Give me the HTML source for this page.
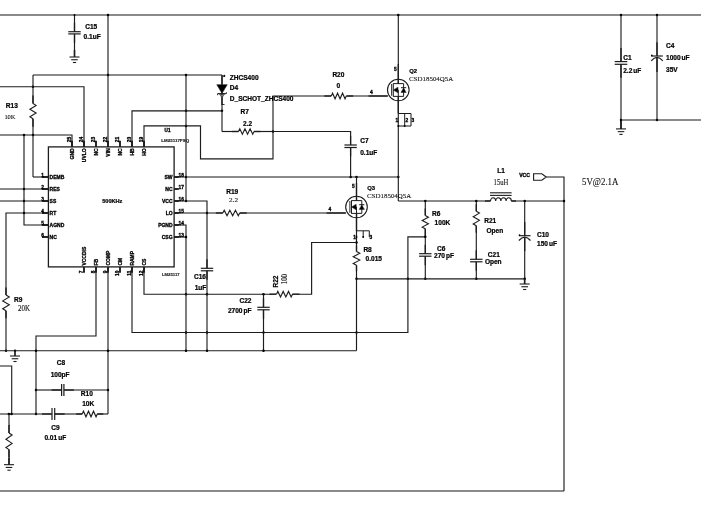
<!DOCTYPE html>
<html><head><meta charset="utf-8"><title>Schematic</title>
<style>
html,body{margin:0;padding:0;background:#fff;}
body{width:701px;height:511px;overflow:hidden;font-family:"Liberation Sans",sans-serif;}
svg{display:block;}
</style></head><body>
<svg width="701" height="511" viewBox="0 0 701 511" stroke="#1c1c1c" stroke-width="1.15" fill="#000" stroke-linecap="butt" stroke-linejoin="miter">
<rect x="0" y="0" width="701" height="511" fill="#fff" stroke="none"/>
<defs><filter id="bl" x="0" y="0" width="701" height="511" filterUnits="userSpaceOnUse"><feGaussianBlur stdDeviation="0.42"/></filter></defs>
<g filter="url(#bl)">
<line x1="0" y1="15" x2="701" y2="15" stroke-width="1.2"/>
<line x1="0" y1="491" x2="564" y2="491" stroke-width="1.2"/>
<line x1="74.5" y1="15" x2="74.5" y2="31.7"/>
<line x1="74.5" y1="33.9" x2="74.5" y2="57"/>
<line x1="74.5" y1="50" x2="74.5" y2="57" stroke-width="1.6"/>
<line x1="68.3" y1="31.7" x2="80.7" y2="31.7" stroke-width="1.2"/>
<line x1="68.3" y1="33.9" x2="80.7" y2="33.9" stroke-width="1.2"/>
<line x1="74.5" y1="22.7" x2="74.5" y2="31.7" stroke-width="1.3"/>
<line x1="74.5" y1="33.9" x2="74.5" y2="42.9" stroke-width="1.3"/>
<line x1="69.5" y1="57" x2="79.5" y2="57" stroke-width="1.1"/>
<line x1="71.2" y1="59.75" x2="77.8" y2="59.75" stroke-width="1.1"/>
<line x1="72.9" y1="62.5" x2="76.1" y2="62.5" stroke-width="1.1"/>
<circle cx="74.5" cy="15" r="1.0" fill="#000" stroke="none"/>
<line x1="108" y1="15" x2="108" y2="147"/>
<circle cx="108" cy="15" r="1.25" fill="#000" stroke="none"/>
<circle cx="108" cy="75" r="1.25" fill="#000" stroke="none"/>
<line x1="33" y1="75" x2="222" y2="75"/>
<line x1="33" y1="75" x2="33" y2="103.5"/>
<line x1="33" y1="118.7" x2="33" y2="177"/>
<line x1="33" y1="177" x2="48" y2="177"/>
<polyline points="33.00,103.50 36.10,105.40 29.90,109.20 36.10,113.00 29.90,116.80 33.00,118.70" fill="none" stroke-width="1.1"/>
<line x1="33" y1="95.5" x2="33" y2="103.5" stroke-width="1.3"/>
<line x1="33" y1="118.7" x2="33" y2="126.7" stroke-width="1.3"/>
<circle cx="33" cy="86.7" r="1.25" fill="#000" stroke="none"/>
<circle cx="33" cy="135" r="1.25" fill="#000" stroke="none"/>
<polyline points="0.00,86.70 84.00,86.70 84.00,147.00" fill="none"/>
<polyline points="0.00,135.00 72.00,135.00 72.00,147.00" fill="none"/>
<polyline points="24.00,135.00 24.00,225.00 48.00,225.00" fill="none"/>
<circle cx="24" cy="135" r="1.25" fill="#000" stroke="none"/>
<circle cx="24" cy="189" r="1.25" fill="#000" stroke="none"/>
<circle cx="24" cy="201" r="1.25" fill="#000" stroke="none"/>
<circle cx="24" cy="213" r="1.25" fill="#000" stroke="none"/>
<line x1="0" y1="189" x2="48" y2="189"/>
<line x1="0" y1="201" x2="48" y2="201"/>
<polyline points="48.00,213.00 6.00,213.00 6.00,295.00" fill="none"/>
<line x1="6" y1="310.7" x2="6" y2="350.7"/>
<polyline points="6.00,295.00 9.30,296.96 2.70,300.89 9.30,304.81 2.70,308.74 6.00,310.70" fill="none" stroke-width="1.1"/>
<line x1="6" y1="287.5" x2="6" y2="295" stroke-width="1.3"/>
<line x1="6" y1="310.7" x2="6" y2="318.2" stroke-width="1.3"/>
<circle cx="6" cy="350.7" r="1.25" fill="#000" stroke="none"/>
<circle cx="15" cy="350.7" r="1.25" fill="#000" stroke="none"/>
<line x1="15" y1="350.7" x2="15" y2="356" stroke-width="1.7"/>
<line x1="10" y1="356" x2="20" y2="356" stroke-width="1.1"/>
<line x1="11.7" y1="358.75" x2="18.3" y2="358.75" stroke-width="1.1"/>
<line x1="13.4" y1="361.5" x2="16.6" y2="361.5" stroke-width="1.1"/>
<line x1="0" y1="350.7" x2="356.5" y2="350.7"/>
<line x1="186" y1="75" x2="186" y2="201"/>
<circle cx="186" cy="75" r="1.25" fill="#000" stroke="none"/>
<circle cx="186" cy="110.8" r="1.25" fill="#000" stroke="none"/>
<circle cx="186" cy="125.9" r="1.25" fill="#000" stroke="none"/>
<circle cx="186" cy="177" r="1.25" fill="#000" stroke="none"/>
<circle cx="186" cy="201" r="1.25" fill="#000" stroke="none"/>
<line x1="174" y1="177" x2="398.3" y2="177"/>
<circle cx="350.6" cy="177" r="1.25" fill="#000" stroke="none"/>
<circle cx="356.5" cy="177" r="1.25" fill="#000" stroke="none"/>
<circle cx="398.3" cy="177" r="1.25" fill="#000" stroke="none"/>
<polyline points="174.00,201.00 207.00,201.00 207.00,268.00" fill="none"/>
<line x1="207" y1="270.5" x2="207" y2="350.7"/>
<line x1="200.8" y1="268.3" x2="213.2" y2="268.3" stroke-width="1.2"/>
<line x1="200.8" y1="270.8" x2="213.2" y2="270.8" stroke-width="1.2"/>
<line x1="207" y1="259.3" x2="207" y2="268.3" stroke-width="1.3"/>
<line x1="207" y1="270.8" x2="207" y2="279.8" stroke-width="1.3"/>
<circle cx="207" cy="213" r="1.25" fill="#000" stroke="none"/>
<circle cx="207" cy="294.2" r="1.25" fill="#000" stroke="none"/>
<circle cx="207" cy="332.5" r="1.25" fill="#000" stroke="none"/>
<circle cx="207" cy="350.7" r="1.25" fill="#000" stroke="none"/>
<line x1="174" y1="213" x2="222.8" y2="213"/>
<line x1="239.7" y1="213" x2="345.8" y2="213"/>
<polyline points="222.80,213.00 224.21,210.20 227.03,215.80 229.84,210.20 232.66,215.80 235.47,210.20 238.29,215.80 239.70,213.00" fill="none" stroke-width="1.1"/>
<line x1="215.8" y1="213" x2="222.8" y2="213" stroke-width="1.3"/>
<line x1="239.7" y1="213" x2="246.7" y2="213" stroke-width="1.3"/>
<line x1="326.5" y1="213" x2="345.8" y2="213" stroke-width="1.3"/>
<polyline points="174.00,225.00 186.00,225.00 186.00,350.70" fill="none"/>
<line x1="174" y1="237" x2="186" y2="237"/>
<circle cx="186" cy="237" r="1.25" fill="#000" stroke="none"/>
<circle cx="186" cy="294.2" r="1.25" fill="#000" stroke="none"/>
<circle cx="186" cy="332.5" r="1.25" fill="#000" stroke="none"/>
<circle cx="186" cy="350.7" r="1.25" fill="#000" stroke="none"/>
<polyline points="132.00,147.00 132.00,110.80 222.00,110.80" fill="none"/>
<circle cx="222" cy="110.8" r="1.25" fill="#000" stroke="none"/>
<line x1="222" y1="75" x2="222" y2="131.5"/>
<polygon points="216.80,84.70 227.20,84.70 222.00,93.30" fill="#000" stroke-width="0.6"/>
<line x1="217.6" y1="93.6" x2="226.4" y2="93.6" stroke-width="1.1"/>
<line x1="217.6" y1="93.6" x2="217.6" y2="95.2" stroke-width="0.9"/>
<line x1="226.4" y1="93.6" x2="226.4" y2="92.2" stroke-width="0.9"/>
<polygon points="219.60,94.40 224.40,94.40 222.00,97.60" fill="none" stroke-width="0.7"/>
<line x1="222" y1="75" x2="222" y2="84.7" stroke-width="1.3"/>
<line x1="222" y1="97.6" x2="222" y2="105" stroke-width="1.3"/>
<text x="223.2" y="78.5" font-family="Liberation Sans, sans-serif" font-size="5" font-weight="bold" stroke="#000" stroke-width="0.32">*</text>
<line x1="222" y1="104.5" x2="224.5" y2="104.5" stroke-width="0.9"/>
<line x1="222" y1="131.5" x2="238.5" y2="131.5"/>
<line x1="254" y1="131.5" x2="273" y2="131.5"/>
<polyline points="238.50,131.50 239.79,128.70 242.38,134.30 244.96,128.70 247.54,134.30 250.12,128.70 252.71,134.30 254.00,131.50" fill="none" stroke-width="1.1"/>
<line x1="232.0" y1="131.5" x2="238.5" y2="131.5" stroke-width="1.3"/>
<line x1="254" y1="131.5" x2="260.5" y2="131.5" stroke-width="1.3"/>
<circle cx="273" cy="131.5" r="1.25" fill="#000" stroke="none"/>
<polyline points="144.00,147.00 144.00,125.90 200.50,125.90 200.50,158.80 273.00,158.80 273.00,96.00 331.00,96.00" fill="none"/>
<line x1="346.5" y1="96" x2="387.8" y2="96"/>
<polyline points="331.30,96.00 332.55,93.20 335.05,98.80 337.55,93.20 340.05,98.80 342.55,93.20 345.05,98.80 346.30,96.00" fill="none" stroke-width="1.1"/>
<line x1="324.3" y1="96" x2="331.3" y2="96" stroke-width="1.3"/>
<line x1="346.3" y1="96" x2="353.3" y2="96" stroke-width="1.3"/>
<line x1="368.5" y1="96" x2="387.8" y2="96" stroke-width="1.3"/>
<polyline points="273.00,131.50 350.60,131.50 350.60,145.00" fill="none"/>
<line x1="350.6" y1="147.5" x2="350.6" y2="177"/>
<line x1="344.40000000000003" y1="145" x2="356.8" y2="145" stroke-width="1.2"/>
<line x1="344.40000000000003" y1="147.5" x2="356.8" y2="147.5" stroke-width="1.2"/>
<line x1="350.6" y1="136" x2="350.6" y2="145" stroke-width="1.3"/>
<line x1="350.6" y1="147.5" x2="350.6" y2="156.5" stroke-width="1.3"/>
<circle cx="398.3" cy="90" r="10.8" fill="none" stroke-width="1.1"/>
<line x1="391.7" y1="84" x2="391.7" y2="95.8" stroke-width="1.0"/>
<line x1="393.3" y1="83.4" x2="393.3" y2="96.6" stroke-width="1.0"/>
<line x1="393.3" y1="83.6" x2="403.6" y2="83.6" stroke-width="1.0"/>
<line x1="393.3" y1="96.4" x2="403.6" y2="96.4" stroke-width="1.0"/>
<line x1="403.6" y1="83.6" x2="403.6" y2="96.4" stroke-width="1.0"/>
<polygon points="393.30,90.00 398.00,87.20 398.00,92.80" fill="#000" stroke-width="0.5"/>
<line x1="397.7" y1="90" x2="398.3" y2="90" stroke-width="1.0"/>
<line x1="398.3" y1="90" x2="398.3" y2="96.4" stroke-width="1.0"/>
<polygon points="401.00,92.40 406.20,92.40 403.60,88.00" fill="#000" stroke-width="0.5"/>
<line x1="401.0" y1="87.7" x2="406.2" y2="87.7" stroke-width="1.0"/>
<line x1="398.3" y1="15" x2="398.3" y2="83.6"/>
<line x1="398.3" y1="64" x2="398.3" y2="83.6" stroke-width="1.3"/>
<line x1="398.3" y1="96.4" x2="398.3" y2="201"/>
<line x1="398.3" y1="96.4" x2="398.3" y2="113.5" stroke-width="1.3"/>
<polyline points="398.30,113.50 411.00,113.50 411.00,126.00 398.30,126.00" fill="none" stroke-width="1.0"/>
<line x1="404.7" y1="113.5" x2="404.7" y2="126" stroke-width="1.0"/>
<circle cx="398.3" cy="126" r="1.0" fill="#000" stroke="none"/>
<circle cx="404.7" cy="126" r="1.0" fill="#000" stroke="none"/>
<circle cx="356.5" cy="207" r="10.8" fill="none" stroke-width="1.1"/>
<line x1="349.9" y1="201" x2="349.9" y2="212.8" stroke-width="1.0"/>
<line x1="351.5" y1="200.4" x2="351.5" y2="213.6" stroke-width="1.0"/>
<line x1="351.5" y1="200.6" x2="361.8" y2="200.6" stroke-width="1.0"/>
<line x1="351.5" y1="213.4" x2="361.8" y2="213.4" stroke-width="1.0"/>
<line x1="361.8" y1="200.6" x2="361.8" y2="213.4" stroke-width="1.0"/>
<polygon points="351.50,207.00 356.20,204.20 356.20,209.80" fill="#000" stroke-width="0.5"/>
<line x1="355.9" y1="207" x2="356.5" y2="207" stroke-width="1.0"/>
<line x1="356.5" y1="207" x2="356.5" y2="213.4" stroke-width="1.0"/>
<polygon points="359.20,209.40 364.40,209.40 361.80,205.00" fill="#000" stroke-width="0.5"/>
<line x1="359.2" y1="204.7" x2="364.4" y2="204.7" stroke-width="1.0"/>
<line x1="356.5" y1="177" x2="356.5" y2="200.6"/>
<line x1="356.5" y1="183" x2="356.5" y2="200.6" stroke-width="1.3"/>
<line x1="356.5" y1="213.4" x2="356.5" y2="251.5"/>
<line x1="356.5" y1="213.4" x2="356.5" y2="231" stroke-width="1.3"/>
<polyline points="356.50,230.80 369.30,230.80 369.30,237.00" fill="none" stroke-width="1.0"/>
<line x1="363.2" y1="230.8" x2="363.2" y2="237" stroke-width="1.0"/>
<circle cx="356.5" cy="237" r="1.0" fill="#000" stroke="none"/>
<circle cx="363.2" cy="237" r="1.0" fill="#000" stroke="none"/>
<line x1="356.5" y1="265.3" x2="356.5" y2="350.7"/>
<polyline points="356.50,251.50 359.80,253.22 353.20,256.68 359.80,260.12 353.20,263.57 356.50,265.30" fill="none" stroke-width="1.1"/>
<line x1="356.5" y1="245.5" x2="356.5" y2="251.5" stroke-width="1.3"/>
<line x1="356.5" y1="265.3" x2="356.5" y2="271.3" stroke-width="1.3"/>
<circle cx="356.5" cy="242.5" r="1.25" fill="#000" stroke="none"/>
<circle cx="356.5" cy="278.8" r="1.25" fill="#000" stroke="none"/>
<circle cx="356.5" cy="332.5" r="1.25" fill="#000" stroke="none"/>
<polyline points="356.50,242.50 311.60,242.50 311.60,294.20 292.00,294.20" fill="none"/>
<polyline points="144.00,267.00 144.00,294.20 276.00,294.20" fill="none"/>
<polyline points="276.50,294.20 277.83,291.40 280.50,297.00 283.17,291.40 285.83,297.00 288.50,291.40 291.17,297.00 292.50,294.20" fill="none" stroke-width="1.1"/>
<line x1="269.5" y1="294.2" x2="276.5" y2="294.2" stroke-width="1.3"/>
<line x1="292.5" y1="294.2" x2="299.5" y2="294.2" stroke-width="1.3"/>
<circle cx="263.5" cy="294.2" r="1.25" fill="#000" stroke="none"/>
<line x1="263.5" y1="294.2" x2="263.5" y2="307.3"/>
<line x1="263.5" y1="309.8" x2="263.5" y2="350.7"/>
<line x1="257.3" y1="307.3" x2="269.7" y2="307.3" stroke-width="1.2"/>
<line x1="257.3" y1="309.8" x2="269.7" y2="309.8" stroke-width="1.2"/>
<line x1="263.5" y1="298.3" x2="263.5" y2="307.3" stroke-width="1.3"/>
<line x1="263.5" y1="309.8" x2="263.5" y2="318.8" stroke-width="1.3"/>
<circle cx="263.5" cy="350.7" r="1.25" fill="#000" stroke="none"/>
<circle cx="263.5" cy="332.5" r="1.25" fill="#000" stroke="none"/>
<polyline points="132.00,267.00 132.00,332.50 407.90,332.50 407.90,236.80 425.30,236.80" fill="none"/>
<circle cx="407.9" cy="278.8" r="1.25" fill="#000" stroke="none"/>
<line x1="398.3" y1="201" x2="490.5" y2="201"/>
<line x1="511.3" y1="201" x2="564" y2="201"/>
<path d="M490.5 201 a2.6 3.2 0 0 1 5.2 0 a2.6 3.2 0 0 1 5.2 0 a2.6 3.2 0 0 1 5.2 0 a2.6 3.2 0 0 1 5.2 0" fill="none" stroke-width="1.1"/>
<line x1="485" y1="201" x2="490.5" y2="201" stroke-width="1.3"/>
<line x1="511.3" y1="201" x2="516" y2="201" stroke-width="1.3"/>
<line x1="490" y1="192.8" x2="511.6" y2="192.8" stroke-width="1.1"/>
<line x1="490" y1="195.4" x2="511.6" y2="195.4" stroke-width="1.1"/>
<line x1="425.3" y1="201" x2="425.3" y2="215.5"/>
<line x1="425.3" y1="228.8" x2="425.3" y2="253.7"/>
<line x1="425.3" y1="256.2" x2="425.3" y2="278.8"/>
<polyline points="425.30,215.50 428.40,217.16 422.20,220.49 428.40,223.81 422.20,227.14 425.30,228.80" fill="none" stroke-width="1.1"/>
<line x1="425.3" y1="208.5" x2="425.3" y2="215.5" stroke-width="1.3"/>
<line x1="425.3" y1="228.8" x2="425.3" y2="235.8" stroke-width="1.3"/>
<line x1="419.1" y1="253.7" x2="431.5" y2="253.7" stroke-width="1.2"/>
<line x1="419.1" y1="256.2" x2="431.5" y2="256.2" stroke-width="1.2"/>
<line x1="425.3" y1="244.7" x2="425.3" y2="253.7" stroke-width="1.3"/>
<line x1="425.3" y1="256.2" x2="425.3" y2="265.2" stroke-width="1.3"/>
<circle cx="425.3" cy="201" r="1.25" fill="#000" stroke="none"/>
<circle cx="425.3" cy="236.8" r="1.25" fill="#000" stroke="none"/>
<circle cx="425.3" cy="278.8" r="1.25" fill="#000" stroke="none"/>
<line x1="476.3" y1="201" x2="476.3" y2="211.3"/>
<line x1="476.3" y1="225.8" x2="476.3" y2="259.3"/>
<line x1="476.3" y1="261.8" x2="476.3" y2="278.8"/>
<polyline points="476.30,211.30 479.40,213.11 473.20,216.74 479.40,220.36 473.20,223.99 476.30,225.80" fill="none" stroke-width="1.1"/>
<line x1="476.3" y1="204.3" x2="476.3" y2="211.3" stroke-width="1.3"/>
<line x1="476.3" y1="225.8" x2="476.3" y2="232.8" stroke-width="1.3"/>
<line x1="470.1" y1="259.3" x2="482.5" y2="259.3" stroke-width="1.2"/>
<line x1="470.1" y1="261.8" x2="482.5" y2="261.8" stroke-width="1.2"/>
<line x1="476.3" y1="250.3" x2="476.3" y2="259.3" stroke-width="1.3"/>
<line x1="476.3" y1="261.8" x2="476.3" y2="270.8" stroke-width="1.3"/>
<circle cx="476.3" cy="201" r="1.25" fill="#000" stroke="none"/>
<circle cx="476.3" cy="278.8" r="1.25" fill="#000" stroke="none"/>
<line x1="518.9000000000001" y1="235.7" x2="530.5" y2="235.7" stroke-width="1.2"/>
<path d="M518.9000000000001 240.5 Q524.7 233.7 530.5 240.5" fill="none" stroke-width="1.2"/>
<circle cx="519.5" cy="235.1" r="0.85" fill="#000" stroke="none"/>
<line x1="524.7" y1="201" x2="524.7" y2="235.7"/>
<line x1="524.7" y1="237.2" x2="524.7" y2="278.8"/>
<line x1="524.7" y1="222" x2="524.7" y2="235.7" stroke-width="1.3"/>
<line x1="524.7" y1="237.2" x2="524.7" y2="251" stroke-width="1.3"/>
<circle cx="524.7" cy="201" r="1.25" fill="#000" stroke="none"/>
<circle cx="524.7" cy="278.8" r="1.25" fill="#000" stroke="none"/>
<line x1="524.7" y1="278.8" x2="524.7" y2="284" stroke-width="1.7"/>
<line x1="519.7" y1="284" x2="529.7" y2="284" stroke-width="1.1"/>
<line x1="521.4000000000001" y1="286.75" x2="528.0" y2="286.75" stroke-width="1.1"/>
<line x1="523.1" y1="289.5" x2="526.3000000000001" y2="289.5" stroke-width="1.1"/>
<line x1="356.5" y1="278.8" x2="524.7" y2="278.8"/>
<polygon points="533.60,173.70 541.80,173.70 546.20,177.00 541.80,180.20 533.60,180.20" fill="none" stroke-width="1.1"/>
<polyline points="546.20,177.00 564.00,177.00 564.00,491.00" fill="none"/>
<circle cx="564" cy="201" r="1.25" fill="#000" stroke="none"/>
<line x1="621" y1="15" x2="621" y2="61.6"/>
<line x1="621" y1="64.3" x2="621" y2="128.9"/>
<line x1="621" y1="120" x2="621" y2="128.9" stroke-width="1.7"/>
<line x1="614.7" y1="61.6" x2="627.3" y2="61.6" stroke-width="1.2"/>
<line x1="614.7" y1="64.3" x2="627.3" y2="64.3" stroke-width="1.2"/>
<line x1="621" y1="48.1" x2="621" y2="61.6" stroke-width="1.3"/>
<line x1="621" y1="64.3" x2="621" y2="77.8" stroke-width="1.3"/>
<circle cx="621" cy="15" r="1.25" fill="#000" stroke="none"/>
<circle cx="621" cy="120" r="1.25" fill="#000" stroke="none"/>
<line x1="616" y1="128.9" x2="626" y2="128.9" stroke-width="1.1"/>
<line x1="617.7" y1="131.65" x2="624.3" y2="131.65" stroke-width="1.1"/>
<line x1="619.4" y1="134.4" x2="622.6" y2="134.4" stroke-width="1.1"/>
<line x1="657" y1="15" x2="657" y2="56"/>
<line x1="657" y1="58" x2="657" y2="120"/>
<line x1="651.2" y1="56" x2="662.8" y2="56" stroke-width="1.2"/>
<path d="M651.2 60.8 Q657 54.0 662.8 60.8" fill="none" stroke-width="1.2"/>
<circle cx="651.8" cy="55.4" r="0.85" fill="#000" stroke="none"/>
<line x1="657" y1="42.3" x2="657" y2="56" stroke-width="1.3"/>
<line x1="657" y1="58" x2="657" y2="72" stroke-width="1.3"/>
<circle cx="657" cy="15" r="1.25" fill="#000" stroke="none"/>
<circle cx="657" cy="120" r="1.25" fill="#000" stroke="none"/>
<line x1="621" y1="120" x2="701" y2="120"/>
<circle cx="398.3" cy="15" r="1.25" fill="#000" stroke="none"/>
<line x1="108" y1="267" x2="108" y2="414"/>
<circle cx="108" cy="350.7" r="1.25" fill="#000" stroke="none"/>
<circle cx="108" cy="390" r="1.25" fill="#000" stroke="none"/>
<polyline points="96.00,267.00 96.00,336.00 36.00,336.00 36.00,414.00" fill="none"/>
<circle cx="36" cy="350.7" r="1.25" fill="#000" stroke="none"/>
<circle cx="36" cy="390" r="1.25" fill="#000" stroke="none"/>
<circle cx="36" cy="414" r="1.25" fill="#000" stroke="none"/>
<line x1="36" y1="390" x2="61.6" y2="390"/>
<line x1="63.9" y1="390" x2="108" y2="390"/>
<line x1="61.6" y1="384" x2="61.6" y2="396" stroke-width="1.2"/>
<line x1="63.9" y1="384" x2="63.9" y2="396" stroke-width="1.2"/>
<line x1="51.6" y1="390" x2="61.6" y2="390" stroke-width="1.3"/>
<line x1="63.9" y1="390" x2="73.9" y2="390" stroke-width="1.3"/>
<line x1="0" y1="414" x2="52" y2="414"/>
<line x1="54.7" y1="414" x2="82.2" y2="414"/>
<line x1="97.3" y1="414" x2="108" y2="414"/>
<line x1="52" y1="408" x2="52" y2="420" stroke-width="1.2"/>
<line x1="54.7" y1="408" x2="54.7" y2="420" stroke-width="1.2"/>
<line x1="42" y1="414" x2="52" y2="414" stroke-width="1.3"/>
<line x1="54.7" y1="414" x2="64.7" y2="414" stroke-width="1.3"/>
<polyline points="82.20,414.00 83.46,411.20 85.97,416.80 88.49,411.20 91.01,416.80 93.53,411.20 96.04,416.80 97.30,414.00" fill="none" stroke-width="1.1"/>
<line x1="76.2" y1="414" x2="82.2" y2="414" stroke-width="1.3"/>
<line x1="97.3" y1="414" x2="103.3" y2="414" stroke-width="1.3"/>
<polyline points="0.00,366.00 11.70,366.00 11.70,414.00" fill="none"/>
<circle cx="11.5" cy="414" r="1.25" fill="#000" stroke="none"/>
<circle cx="8.8" cy="414" r="1.25" fill="#000" stroke="none"/>
<line x1="9" y1="414" x2="9" y2="433"/>
<line x1="9" y1="449.6" x2="9" y2="464.7"/>
<line x1="9" y1="458" x2="9" y2="464.7" stroke-width="1.6"/>
<polyline points="9.00,433.00 12.10,435.07 5.90,439.23 12.10,443.38 5.90,447.53 9.00,449.60" fill="none" stroke-width="1.1"/>
<line x1="9" y1="425" x2="9" y2="433" stroke-width="1.3"/>
<line x1="9" y1="449.6" x2="9" y2="457.6" stroke-width="1.3"/>
<line x1="4" y1="464.7" x2="14" y2="464.7" stroke-width="1.1"/>
<line x1="5.7" y1="467.45" x2="12.3" y2="467.45" stroke-width="1.1"/>
<line x1="7.4" y1="470.2" x2="10.6" y2="470.2" stroke-width="1.1"/>
<rect x="48.4" y="146.9" width="125.7" height="120" fill="none" stroke-width="1.3"/>
<line x1="42" y1="177" x2="48.4" y2="177" stroke-width="1.9"/>
<text x="41.3" y="176.8" font-family="Liberation Sans, sans-serif" font-size="4.8" font-weight="bold" stroke="#000" stroke-width="0.32">1</text>
<text x="49.6" y="178.9" font-family="Liberation Sans, sans-serif" font-size="5.0" font-weight="bold" stroke="#000" stroke-width="0.32">DEMB</text>
<line x1="42" y1="189" x2="48.4" y2="189" stroke-width="1.9"/>
<text x="41.3" y="188.8" font-family="Liberation Sans, sans-serif" font-size="4.8" font-weight="bold" stroke="#000" stroke-width="0.32">2</text>
<text x="49.6" y="190.9" font-family="Liberation Sans, sans-serif" font-size="5.0" font-weight="bold" stroke="#000" stroke-width="0.32">RES</text>
<line x1="42" y1="201" x2="48.4" y2="201" stroke-width="1.9"/>
<text x="41.3" y="200.8" font-family="Liberation Sans, sans-serif" font-size="4.8" font-weight="bold" stroke="#000" stroke-width="0.32">3</text>
<text x="49.6" y="202.9" font-family="Liberation Sans, sans-serif" font-size="5.0" font-weight="bold" stroke="#000" stroke-width="0.32">SS</text>
<line x1="42" y1="213" x2="48.4" y2="213" stroke-width="1.9"/>
<text x="41.3" y="212.8" font-family="Liberation Sans, sans-serif" font-size="4.8" font-weight="bold" stroke="#000" stroke-width="0.32">4</text>
<text x="49.6" y="214.9" font-family="Liberation Sans, sans-serif" font-size="5.0" font-weight="bold" stroke="#000" stroke-width="0.32">RT</text>
<line x1="42" y1="225" x2="48.4" y2="225" stroke-width="1.9"/>
<text x="41.3" y="224.8" font-family="Liberation Sans, sans-serif" font-size="4.8" font-weight="bold" stroke="#000" stroke-width="0.32">5</text>
<text x="49.6" y="226.9" font-family="Liberation Sans, sans-serif" font-size="5.0" font-weight="bold" stroke="#000" stroke-width="0.32">AGND</text>
<line x1="42" y1="237" x2="48.4" y2="237" stroke-width="1.9"/>
<text x="41.3" y="236.8" font-family="Liberation Sans, sans-serif" font-size="4.8" font-weight="bold" stroke="#000" stroke-width="0.32">6</text>
<text x="49.6" y="238.9" font-family="Liberation Sans, sans-serif" font-size="5.0" font-weight="bold" stroke="#000" stroke-width="0.32">NC</text>
<line x1="174.1" y1="177" x2="178.8" y2="177" stroke-width="1.9"/>
<text x="178.6" y="176.8" font-family="Liberation Sans, sans-serif" font-size="4.8" font-weight="bold" stroke="#000" stroke-width="0.32">18</text>
<text x="172.6" y="178.9" font-family="Liberation Sans, sans-serif" font-size="5.0" font-weight="bold" text-anchor="end" stroke="#000" stroke-width="0.32">SW</text>
<line x1="174.1" y1="189" x2="178.8" y2="189" stroke-width="1.9"/>
<text x="178.6" y="188.8" font-family="Liberation Sans, sans-serif" font-size="4.8" font-weight="bold" stroke="#000" stroke-width="0.32">17</text>
<text x="172.6" y="190.9" font-family="Liberation Sans, sans-serif" font-size="5.0" font-weight="bold" text-anchor="end" stroke="#000" stroke-width="0.32">NC</text>
<line x1="174.1" y1="201" x2="178.8" y2="201" stroke-width="1.9"/>
<text x="178.6" y="200.8" font-family="Liberation Sans, sans-serif" font-size="4.8" font-weight="bold" stroke="#000" stroke-width="0.32">16</text>
<text x="172.6" y="202.9" font-family="Liberation Sans, sans-serif" font-size="5.0" font-weight="bold" text-anchor="end" stroke="#000" stroke-width="0.32">VCC</text>
<line x1="174.1" y1="213" x2="178.8" y2="213" stroke-width="1.9"/>
<text x="178.6" y="212.8" font-family="Liberation Sans, sans-serif" font-size="4.8" font-weight="bold" stroke="#000" stroke-width="0.32">15</text>
<text x="172.6" y="214.9" font-family="Liberation Sans, sans-serif" font-size="5.0" font-weight="bold" text-anchor="end" stroke="#000" stroke-width="0.32">LO</text>
<line x1="174.1" y1="225" x2="178.8" y2="225" stroke-width="1.9"/>
<text x="178.6" y="224.8" font-family="Liberation Sans, sans-serif" font-size="4.8" font-weight="bold" stroke="#000" stroke-width="0.32">14</text>
<text x="172.6" y="226.9" font-family="Liberation Sans, sans-serif" font-size="5.0" font-weight="bold" text-anchor="end" stroke="#000" stroke-width="0.32">PGND</text>
<line x1="174.1" y1="237" x2="178.8" y2="237" stroke-width="1.9"/>
<text x="178.6" y="236.8" font-family="Liberation Sans, sans-serif" font-size="4.8" font-weight="bold" stroke="#000" stroke-width="0.32">13</text>
<text x="172.6" y="238.9" font-family="Liberation Sans, sans-serif" font-size="5.0" font-weight="bold" text-anchor="end" stroke="#000" stroke-width="0.32">CSG</text>
<line x1="72" y1="140.8" x2="72" y2="146.9" stroke-width="1.9"/>
<text x="71.1" y="142.2" font-family="Liberation Sans, sans-serif" font-size="4.8" font-weight="bold" transform="rotate(-90 71.1 142.2)" stroke="#000" stroke-width="0.32">25</text>
<text x="73.9" y="148.3" font-family="Liberation Sans, sans-serif" font-size="5.0" font-weight="bold" text-anchor="end" transform="rotate(-90 73.9 148.3)" stroke="#000" stroke-width="0.32">GND</text>
<line x1="84" y1="140.8" x2="84" y2="146.9" stroke-width="1.9"/>
<text x="83.1" y="142.2" font-family="Liberation Sans, sans-serif" font-size="4.8" font-weight="bold" transform="rotate(-90 83.1 142.2)" stroke="#000" stroke-width="0.32">24</text>
<text x="85.9" y="148.3" font-family="Liberation Sans, sans-serif" font-size="5.0" font-weight="bold" text-anchor="end" transform="rotate(-90 85.9 148.3)" stroke="#000" stroke-width="0.32">UVLO</text>
<line x1="96" y1="140.8" x2="96" y2="146.9" stroke-width="1.9"/>
<text x="95.1" y="142.2" font-family="Liberation Sans, sans-serif" font-size="4.8" font-weight="bold" transform="rotate(-90 95.1 142.2)" stroke="#000" stroke-width="0.32">23</text>
<text x="97.9" y="148.3" font-family="Liberation Sans, sans-serif" font-size="5.0" font-weight="bold" text-anchor="end" transform="rotate(-90 97.9 148.3)" stroke="#000" stroke-width="0.32">NC</text>
<line x1="108" y1="140.8" x2="108" y2="146.9" stroke-width="1.9"/>
<text x="107.1" y="142.2" font-family="Liberation Sans, sans-serif" font-size="4.8" font-weight="bold" transform="rotate(-90 107.1 142.2)" stroke="#000" stroke-width="0.32">22</text>
<text x="109.9" y="148.3" font-family="Liberation Sans, sans-serif" font-size="5.0" font-weight="bold" text-anchor="end" transform="rotate(-90 109.9 148.3)" stroke="#000" stroke-width="0.32">VIN</text>
<line x1="120" y1="140.8" x2="120" y2="146.9" stroke-width="1.9"/>
<text x="119.1" y="142.2" font-family="Liberation Sans, sans-serif" font-size="4.8" font-weight="bold" transform="rotate(-90 119.1 142.2)" stroke="#000" stroke-width="0.32">21</text>
<text x="121.9" y="148.3" font-family="Liberation Sans, sans-serif" font-size="5.0" font-weight="bold" text-anchor="end" transform="rotate(-90 121.9 148.3)" stroke="#000" stroke-width="0.32">NC</text>
<line x1="132" y1="140.8" x2="132" y2="146.9" stroke-width="1.9"/>
<text x="131.1" y="142.2" font-family="Liberation Sans, sans-serif" font-size="4.8" font-weight="bold" transform="rotate(-90 131.1 142.2)" stroke="#000" stroke-width="0.32">20</text>
<text x="133.9" y="148.3" font-family="Liberation Sans, sans-serif" font-size="5.0" font-weight="bold" text-anchor="end" transform="rotate(-90 133.9 148.3)" stroke="#000" stroke-width="0.32">HB</text>
<line x1="144" y1="140.8" x2="144" y2="146.9" stroke-width="1.9"/>
<text x="143.1" y="142.2" font-family="Liberation Sans, sans-serif" font-size="4.8" font-weight="bold" transform="rotate(-90 143.1 142.2)" stroke="#000" stroke-width="0.32">19</text>
<text x="145.9" y="148.3" font-family="Liberation Sans, sans-serif" font-size="5.0" font-weight="bold" text-anchor="end" transform="rotate(-90 145.9 148.3)" stroke="#000" stroke-width="0.32">HO</text>
<line x1="84" y1="266.9" x2="84" y2="272.8" stroke-width="1.9"/>
<text x="83.1" y="270.6" font-family="Liberation Sans, sans-serif" font-size="4.8" font-weight="bold" text-anchor="end" transform="rotate(-90 83.1 270.6)" stroke="#000" stroke-width="0.32">7</text>
<text x="85.9" y="265.6" font-family="Liberation Sans, sans-serif" font-size="5.0" font-weight="bold" transform="rotate(-90 85.9 265.6)" stroke="#000" stroke-width="0.32">VCCDIS</text>
<line x1="96" y1="266.9" x2="96" y2="272.8" stroke-width="1.9"/>
<text x="95.1" y="270.6" font-family="Liberation Sans, sans-serif" font-size="4.8" font-weight="bold" text-anchor="end" transform="rotate(-90 95.1 270.6)" stroke="#000" stroke-width="0.32">8</text>
<text x="97.9" y="265.6" font-family="Liberation Sans, sans-serif" font-size="5.0" font-weight="bold" transform="rotate(-90 97.9 265.6)" stroke="#000" stroke-width="0.32">FB</text>
<line x1="108" y1="266.9" x2="108" y2="272.8" stroke-width="1.9"/>
<text x="107.1" y="270.6" font-family="Liberation Sans, sans-serif" font-size="4.8" font-weight="bold" text-anchor="end" transform="rotate(-90 107.1 270.6)" stroke="#000" stroke-width="0.32">9</text>
<text x="109.9" y="265.6" font-family="Liberation Sans, sans-serif" font-size="5.0" font-weight="bold" transform="rotate(-90 109.9 265.6)" stroke="#000" stroke-width="0.32">COMP</text>
<line x1="120" y1="266.9" x2="120" y2="272.8" stroke-width="1.9"/>
<text x="119.1" y="270.6" font-family="Liberation Sans, sans-serif" font-size="4.8" font-weight="bold" text-anchor="end" transform="rotate(-90 119.1 270.6)" stroke="#000" stroke-width="0.32">10</text>
<text x="121.9" y="265.6" font-family="Liberation Sans, sans-serif" font-size="5.0" font-weight="bold" transform="rotate(-90 121.9 265.6)" stroke="#000" stroke-width="0.32">CM</text>
<line x1="132" y1="266.9" x2="132" y2="272.8" stroke-width="1.9"/>
<text x="131.1" y="270.6" font-family="Liberation Sans, sans-serif" font-size="4.8" font-weight="bold" text-anchor="end" transform="rotate(-90 131.1 270.6)" stroke="#000" stroke-width="0.32">11</text>
<text x="133.9" y="265.6" font-family="Liberation Sans, sans-serif" font-size="5.0" font-weight="bold" transform="rotate(-90 133.9 265.6)" stroke="#000" stroke-width="0.32">RAMP</text>
<line x1="144" y1="266.9" x2="144" y2="272.8" stroke-width="1.9"/>
<text x="143.1" y="270.6" font-family="Liberation Sans, sans-serif" font-size="4.8" font-weight="bold" text-anchor="end" transform="rotate(-90 143.1 270.6)" stroke="#000" stroke-width="0.32">12</text>
<text x="145.9" y="265.6" font-family="Liberation Sans, sans-serif" font-size="5.0" font-weight="bold" transform="rotate(-90 145.9 265.6)" stroke="#000" stroke-width="0.32">CS</text>
<text x="102.2" y="202.6" font-family="Liberation Sans, sans-serif" font-size="5.6" font-weight="bold" stroke="#000" stroke-width="0.22">500KHz</text>
<text x="164.6" y="131.9" font-family="Liberation Sans, sans-serif" font-size="4.6" font-weight="bold" stroke="#000" stroke-width="0.32">U1</text>
<text x="161.3" y="141.6" font-family="Liberation Sans, sans-serif" font-size="4.4" font-weight="bold" textLength="28" lengthAdjust="spacingAndGlyphs" fill="#222" stroke="#000" stroke-width="0.12">LM25117PSQ</text>
<text x="162" y="275.8" font-family="Liberation Sans, sans-serif" font-size="4.4" font-weight="bold" textLength="17.6" lengthAdjust="spacingAndGlyphs" fill="#222" stroke="#000" stroke-width="0.12">LM25117</text>
<text x="85.2" y="29.3" font-family="Liberation Sans, sans-serif" font-size="6.55" font-weight="bold" stroke="#000" stroke-width="0.22">C15</text>
<text x="83.6" y="39.4" font-family="Liberation Sans, sans-serif" font-size="6.55" font-weight="bold" stroke="#000" stroke-width="0.22">0.1uF</text>
<text x="5.8" y="108.2" font-family="Liberation Sans, sans-serif" font-size="6.55" font-weight="bold" stroke="#000" stroke-width="0.22">R13</text>
<text x="4.4" y="118.8" font-family="Liberation Serif, serif" font-size="7" textLength="11.1" lengthAdjust="spacingAndGlyphs" fill="#111" stroke="#000" stroke-width="0.1">10K</text>
<text x="14" y="301.5" font-family="Liberation Sans, sans-serif" font-size="6.55" font-weight="bold" stroke="#000" stroke-width="0.22">R9</text>
<text x="18" y="310.5" font-family="Liberation Serif, serif" font-size="7.4" textLength="12" lengthAdjust="spacingAndGlyphs" fill="#111" stroke="#000" stroke-width="0.1">20K</text>
<text x="229.8" y="79.7" font-family="Liberation Sans, sans-serif" font-size="6.55" font-weight="bold" stroke="#000" stroke-width="0.22">ZHCS400</text>
<text x="229.8" y="89.7" font-family="Liberation Sans, sans-serif" font-size="6.55" font-weight="bold" stroke="#000" stroke-width="0.22">D4</text>
<text x="229.8" y="100.7" font-family="Liberation Sans, sans-serif" font-size="6.55" font-weight="bold" stroke="#000" stroke-width="0.22">D_SCHOT_ZHCS400</text>
<text x="240.5" y="113.9" font-family="Liberation Sans, sans-serif" font-size="6.55" font-weight="bold" stroke="#000" stroke-width="0.22">R7</text>
<text x="243" y="126.3" font-family="Liberation Sans, sans-serif" font-size="6.55" font-weight="bold" stroke="#000" stroke-width="0.22">2.2</text>
<text x="332.4" y="77.3" font-family="Liberation Sans, sans-serif" font-size="6.55" font-weight="bold" stroke="#000" stroke-width="0.22">R20</text>
<text x="336.5" y="87.5" font-family="Liberation Sans, sans-serif" font-size="6.55" font-weight="bold" stroke="#000" stroke-width="0.22">0</text>
<text x="226.2" y="193.7" font-family="Liberation Sans, sans-serif" font-size="6.6" font-weight="bold" stroke="#000" stroke-width="0.22">R19</text>
<text x="229" y="202" font-family="Liberation Serif, serif" font-size="7" textLength="9" lengthAdjust="spacingAndGlyphs" fill="#111" stroke="#000" stroke-width="0.1">2.2</text>
<text x="360.2" y="143" font-family="Liberation Sans, sans-serif" font-size="6.55" font-weight="bold" stroke="#000" stroke-width="0.22">C7</text>
<text x="360.2" y="155" font-family="Liberation Sans, sans-serif" font-size="6.55" font-weight="bold" stroke="#000" stroke-width="0.22">0.1uF</text>
<text x="409.2" y="72.5" font-family="Liberation Sans, sans-serif" font-size="5.9" font-weight="bold" stroke="#000" stroke-width="0.22">Q2</text>
<text x="409" y="80.5" font-family="Liberation Serif, serif" font-size="7" textLength="44.3" lengthAdjust="spacingAndGlyphs" fill="#111" stroke="#000" stroke-width="0.1">CSD18504Q5A</text>
<text x="367.2" y="190.2" font-family="Liberation Sans, sans-serif" font-size="5.9" font-weight="bold" stroke="#000" stroke-width="0.22">Q3</text>
<text x="367" y="198" font-family="Liberation Serif, serif" font-size="7" textLength="44.3" lengthAdjust="spacingAndGlyphs" fill="#111" stroke="#000" stroke-width="0.1">CSD18504Q5A</text>
<text x="394" y="71.3" font-family="Liberation Sans, sans-serif" font-size="4.8" font-weight="bold" stroke="#000" stroke-width="0.32">5</text>
<text x="370" y="93.6" font-family="Liberation Sans, sans-serif" font-size="4.8" font-weight="bold" stroke="#000" stroke-width="0.32">4</text>
<text x="352" y="188.3" font-family="Liberation Sans, sans-serif" font-size="4.8" font-weight="bold" stroke="#000" stroke-width="0.32">5</text>
<text x="328.6" y="211" font-family="Liberation Sans, sans-serif" font-size="4.8" font-weight="bold" stroke="#000" stroke-width="0.32">4</text>
<text x="395.4" y="122" font-family="Liberation Sans, sans-serif" font-size="4.8" font-weight="bold" stroke="#000" stroke-width="0.32">1</text>
<text x="405.6" y="122" font-family="Liberation Sans, sans-serif" font-size="4.8" font-weight="bold" stroke="#000" stroke-width="0.32">2</text>
<text x="411.6" y="122" font-family="Liberation Sans, sans-serif" font-size="4.8" font-weight="bold" stroke="#000" stroke-width="0.32">3</text>
<text x="353.3" y="239" font-family="Liberation Sans, sans-serif" font-size="4.8" font-weight="bold" stroke="#000" stroke-width="0.32">1</text>
<text x="369.6" y="239" font-family="Liberation Sans, sans-serif" font-size="4.8" font-weight="bold" stroke="#000" stroke-width="0.32">3</text>
<text x="363.4" y="252.2" font-family="Liberation Sans, sans-serif" font-size="6.55" font-weight="bold" stroke="#000" stroke-width="0.22">R8</text>
<text x="365.6" y="261.2" font-family="Liberation Sans, sans-serif" font-size="6.55" font-weight="bold" stroke="#000" stroke-width="0.22">0.015</text>
<text x="432" y="216.1" font-family="Liberation Sans, sans-serif" font-size="6.55" font-weight="bold" stroke="#000" stroke-width="0.22">R6</text>
<text x="434.6" y="225.1" font-family="Liberation Sans, sans-serif" font-size="6.55" font-weight="bold" stroke="#000" stroke-width="0.22">100K</text>
<text x="437" y="250.9" font-family="Liberation Sans, sans-serif" font-size="6.55" font-weight="bold" stroke="#000" stroke-width="0.22">C6</text>
<text x="434" y="258.3" font-family="Liberation Sans, sans-serif" font-size="6.55" font-weight="bold" word-spacing="-0.8" stroke="#000" stroke-width="0.22">270 pF</text>
<text x="484.2" y="222.5" font-family="Liberation Sans, sans-serif" font-size="6.55" font-weight="bold" stroke="#000" stroke-width="0.22">R21</text>
<text x="486.5" y="233.2" font-family="Liberation Sans, sans-serif" font-size="6.55" font-weight="bold" stroke="#000" stroke-width="0.22">Open</text>
<text x="487.8" y="257.2" font-family="Liberation Sans, sans-serif" font-size="6.55" font-weight="bold" stroke="#000" stroke-width="0.22">C21</text>
<text x="484.9" y="264.4" font-family="Liberation Sans, sans-serif" font-size="6.55" font-weight="bold" stroke="#000" stroke-width="0.22">Open</text>
<text x="537" y="236.7" font-family="Liberation Sans, sans-serif" font-size="6.55" font-weight="bold" stroke="#000" stroke-width="0.22">C10</text>
<text x="537" y="245.8" font-family="Liberation Sans, sans-serif" font-size="6.55" font-weight="bold" word-spacing="-0.8" stroke="#000" stroke-width="0.22">150 uF</text>
<text x="497.3" y="173.2" font-family="Liberation Sans, sans-serif" font-size="6.55" font-weight="bold" stroke="#000" stroke-width="0.22">L1</text>
<text x="493.6" y="184.8" font-family="Liberation Serif, serif" font-size="7.4" textLength="14.8" lengthAdjust="spacingAndGlyphs" fill="#111" stroke="#000" stroke-width="0.1">15uH</text>
<text x="519.2" y="177.2" font-family="Liberation Sans, sans-serif" font-size="5" font-weight="bold" textLength="10.8" lengthAdjust="spacingAndGlyphs" stroke="#000" stroke-width="0.32">VCC</text>
<text x="582" y="185.3" font-family="Liberation Serif, serif" font-size="9.6" textLength="36.4" lengthAdjust="spacingAndGlyphs" fill="#111" stroke="#000" stroke-width="0.1">5V@2.1A</text>
<text x="623.2" y="59.8" font-family="Liberation Sans, sans-serif" font-size="6.55" font-weight="bold" stroke="#000" stroke-width="0.22">C1</text>
<text x="623.2" y="72.8" font-family="Liberation Sans, sans-serif" font-size="6.55" font-weight="bold" word-spacing="-0.8" stroke="#000" stroke-width="0.22">2.2 uF</text>
<text x="666" y="47.8" font-family="Liberation Sans, sans-serif" font-size="6.55" font-weight="bold" stroke="#000" stroke-width="0.22">C4</text>
<text x="666" y="59.8" font-family="Liberation Sans, sans-serif" font-size="6.55" font-weight="bold" word-spacing="-0.8" stroke="#000" stroke-width="0.22">1000 uF</text>
<text x="666" y="71.8" font-family="Liberation Sans, sans-serif" font-size="6.55" font-weight="bold" stroke="#000" stroke-width="0.22">35V</text>
<text x="194" y="279" font-family="Liberation Sans, sans-serif" font-size="6.55" font-weight="bold" stroke="#000" stroke-width="0.22">C16</text>
<text x="194.7" y="290.3" font-family="Liberation Sans, sans-serif" font-size="6.55" font-weight="bold" stroke="#000" stroke-width="0.22">1uF</text>
<text x="251.5" y="302.8" font-family="Liberation Sans, sans-serif" font-size="6.55" font-weight="bold" text-anchor="end" stroke="#000" stroke-width="0.22">C22</text>
<text x="251.5" y="312.6" font-family="Liberation Sans, sans-serif" font-size="6.55" font-weight="bold" text-anchor="end" word-spacing="-0.8" stroke="#000" stroke-width="0.22">2700 pF</text>
<text x="277.6" y="287.5" font-family="Liberation Sans, sans-serif" font-size="6.55" font-weight="bold" transform="rotate(-90 277.6 287.5)" stroke="#000" stroke-width="0.22">R22</text>
<text x="287.5" y="284.2" font-family="Liberation Serif, serif" font-size="7.2" transform="rotate(-90 287.5 284.2)" textLength="10.2" lengthAdjust="spacingAndGlyphs" fill="#000" stroke="#000" stroke-width="0.1">100</text>
<text x="56.7" y="364.7" font-family="Liberation Sans, sans-serif" font-size="6.55" font-weight="bold" stroke="#000" stroke-width="0.22">C8</text>
<text x="50.7" y="377" font-family="Liberation Sans, sans-serif" font-size="6.55" font-weight="bold" stroke="#000" stroke-width="0.22">100pF</text>
<text x="80.8" y="396.1" font-family="Liberation Sans, sans-serif" font-size="6.55" font-weight="bold" stroke="#000" stroke-width="0.22">R10</text>
<text x="82.2" y="405.8" font-family="Liberation Sans, sans-serif" font-size="6.55" font-weight="bold" stroke="#000" stroke-width="0.22">10K</text>
<text x="51.2" y="429.6" font-family="Liberation Sans, sans-serif" font-size="6.55" font-weight="bold" stroke="#000" stroke-width="0.22">C9</text>
<text x="44.4" y="439.5" font-family="Liberation Sans, sans-serif" font-size="6.55" font-weight="bold" word-spacing="-0.8" stroke="#000" stroke-width="0.22">0.01 uF</text>
</g>
</svg>
</body></html>
